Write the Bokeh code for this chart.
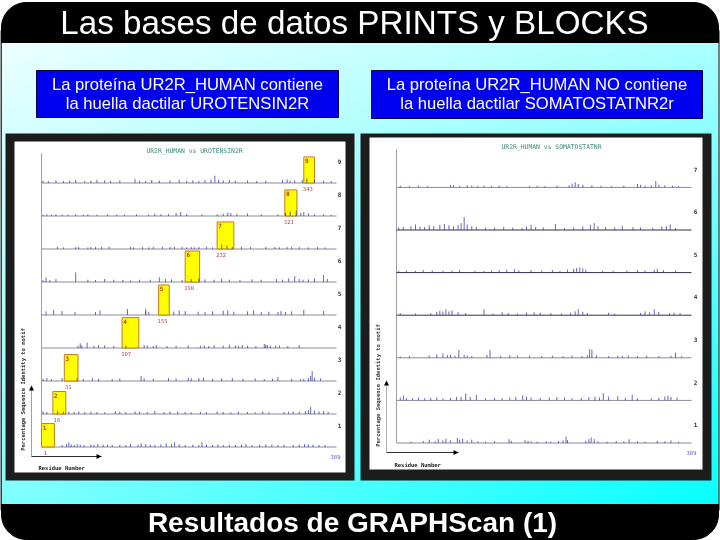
import numpy as np
from bokeh.plotting import figure
from bokeh.models import Range1d
from bokeh.core.properties import value
from bokeh.embed import file_html
from bokeh.resources import INLINE

# ---------- text ----------
slide_title = "Las bases de datos PRINTS y BLOCKS"
slide_footer = "Resultados de GRAPHScan (1)"
left_caption = ["La proteína UR2R_HUMAN contiene", "la huella dactilar UROTENSIN2R"]
right_caption = ["La proteína UR2R_HUMAN NO contiene", "la huella dactilar SOMATOSTATNR2r"]
left_chart_title = "UR2R_HUMAN vs UROTENSIN2R"
right_chart_title = "UR2R_HUMAN vs SOMATOSTATNR"
y_axis_title = "Percentage Sequence Identity to motif"
x_axis_title = "Residue Number"
seq_length = 389

# ---------- left chart: yellow motif hits ----------
motif_rows = [1, 2, 3, 4, 5, 6, 7, 8, 9]
motif_start = [1, 16, 31, 107, 155, 190, 232, 321, 346]
motif_width = [17, 17, 18, 22, 14, 19, 22, 16, 14]
motif_pct = [71, 68, 80, 92, 91, 94, 82, 79, 79]
motif_label = ["1", "16", "31", "107", "155", "190", "232", "321", "343"]

# ---------- left chart: spikes (residue, % identity) ----------
L1_res = [28, 34, 37, 40, 44, 48, 52, 57, 66, 70, 75, 82, 88, 94, 104, 112, 118, 128, 132, 138, 144, 150, 158, 165, 172, 176, 182, 190, 200, 208, 212, 218, 226, 233, 240, 248, 256, 264, 270, 278, 288, 296, 304, 312, 320, 332, 340, 347, 352, 358, 366, 374]
L1_pct = [6, 9, 14, 8, 6, 9, 7, 6, 7, 6, 9, 7, 8, 6, 7, 6, 9, 7, 11, 9, 7, 6, 8, 11, 9, 14, 8, 6, 7, 6, 14, 7, 6, 8, 6, 7, 6, 7, 9, 6, 7, 8, 7, 6, 7, 6, 7, 9, 8, 7, 6, 6]
L2_res = [3, 8, 22, 30, 37, 44, 50, 58, 66, 74, 84, 98, 104, 112, 124, 130, 140, 150, 162, 170, 180, 190, 198, 210, 218, 232, 240, 250, 260, 272, 282, 292, 300, 320, 326, 332, 340, 348, 352, 355, 360, 366, 372, 378]
L2_pct = [8, 6, 9, 7, 7, 6, 8, 6, 7, 6, 5, 9, 7, 6, 8, 7, 6, 9, 6, 8, 7, 6, 5, 7, 6, 8, 6, 5, 7, 6, 5, 8, 5, 6, 7, 8, 7, 9, 12, 21, 11, 8, 9, 7]
L3_res = [3, 8, 14, 28, 48, 56, 68, 76, 94, 104, 132, 136, 148, 168, 178, 194, 198, 208, 214, 226, 238, 252, 266, 282, 294, 305, 312, 330, 342, 346, 352, 355, 357, 360, 368]
L3_pct = [7, 9, 6, 9, 8, 6, 9, 7, 6, 8, 15, 8, 7, 9, 8, 10, 8, 9, 10, 7, 8, 9, 7, 8, 6, 7, 12, 7, 6, 7, 9, 15, 30, 10, 8]
L4_res = [49, 52, 54, 61, 70, 76, 84, 96, 112, 136, 140, 148, 152, 166, 178, 194, 210, 215, 221, 228, 240, 248, 256, 260, 265, 272, 283, 294, 296, 298, 302, 309, 314, 325, 340]
L4_pct = [7, 14, 8, 16, 7, 9, 8, 6, 7, 9, 8, 6, 9, 6, 7, 8, 7, 8, 6, 9, 7, 10, 8, 7, 9, 7, 6, 12, 10, 9, 7, 8, 7, 6, 9]
L5_res = [7, 17, 28, 45, 72, 78, 114, 138, 138, 142, 175, 182, 190, 207, 216, 226, 240, 246, 254, 272, 280, 290, 300, 312, 316, 322, 330, 346, 372]
L5_pct = [11, 16, 12, 9, 9, 14, 18, 19, 10, 9, 11, 14, 12, 10, 9, 11, 13, 14, 10, 11, 14, 9, 10, 9, 12, 9, 11, 16, 12]
L6_res = [3, 7, 12, 20, 46, 62, 72, 84, 96, 108, 118, 130, 144, 156, 164, 172, 186, 198, 208, 216, 228, 238, 248, 262, 278, 290, 310, 318, 326, 334, 340, 345, 352, 360, 372, 377]
L6_pct = [6, 14, 6, 9, 29, 7, 6, 9, 7, 6, 5, 7, 7, 14, 9, 8, 6, 9, 11, 8, 7, 10, 7, 6, 8, 7, 9, 7, 11, 18, 9, 7, 8, 11, 21, 9]
L7_res = [22, 30, 46, 50, 62, 66, 72, 80, 90, 118, 122, 134, 142, 148, 160, 170, 176, 186, 192, 198, 202, 208, 218, 226, 238, 245, 252, 264, 276, 296, 308, 314, 324, 330, 340, 352, 364, 374]
L7_pct = [6, 5, 6, 6, 5, 6, 6, 6, 7, 6, 5, 6, 5, 6, 7, 6, 6, 7, 5, 6, 5, 6, 7, 5, 14, 10, 6, 7, 6, 6, 6, 5, 6, 7, 6, 5, 6, 5]
L8_res = [3, 8, 14, 20, 28, 36, 46, 56, 62, 74, 88, 100, 110, 126, 142, 150, 158, 168, 178, 184, 192, 212, 232, 240, 246, 250, 258, 272, 290, 312, 322, 328, 336, 342, 346, 352, 360, 372, 382]
L8_pct = [4, 5, 4, 5, 4, 4, 5, 4, 5, 4, 5, 4, 4, 5, 4, 7, 5, 6, 9, 12, 6, 5, 5, 7, 10, 9, 7, 8, 5, 5, 9, 14, 16, 9, 12, 8, 5, 5, 4]
L9_res = [3, 10, 20, 30, 38, 46, 58, 66, 74, 84, 92, 104, 124, 130, 138, 146, 156, 170, 182, 192, 200, 208, 216, 224, 229, 234, 240, 248, 256, 272, 284, 296, 318, 324, 328, 334, 344, 350, 360, 372, 382]
L9_pct = [7, 6, 8, 6, 7, 9, 6, 7, 10, 8, 6, 8, 12, 7, 6, 9, 7, 8, 10, 7, 8, 6, 9, 11, 22, 10, 8, 9, 7, 8, 6, 7, 9, 11, 7, 8, 10, 14, 9, 7, 6]

# ---------- right chart: spikes (residue, % identity) ----------
R1_res = [20, 36, 44, 52, 56, 62, 66, 72, 81, 84, 88, 94, 100, 108, 118, 130, 149, 152, 170, 174, 178, 186, 198, 204, 214, 220, 224, 226, 250, 254, 257, 261, 266, 278, 290, 300, 307, 318, 328, 344, 354, 362, 372]
R1_pct = [3, 5, 8, 4, 9, 6, 10, 6, 12, 8, 10, 6, 8, 4, 3, 4, 9, 5, 7, 5, 4, 3, 4, 3, 5, 6, 15, 7, 5, 9, 13, 9, 4, 3, 5, 4, 9, 4, 3, 5, 4, 6, 3]
R2_res = [6, 10, 14, 22, 30, 38, 46, 54, 62, 72, 80, 86, 92, 98, 106, 118, 130, 140, 150, 158, 167, 172, 178, 190, 202, 212, 222, 232, 244, 254, 262, 268, 273, 280, 292, 302, 311, 318, 336, 346, 354, 358, 362, 370]
R2_pct = [7, 12, 6, 5, 7, 5, 6, 7, 5, 6, 8, 9, 16, 8, 13, 5, 6, 5, 7, 8, 12, 9, 7, 6, 7, 8, 7, 5, 6, 8, 9, 7, 17, 9, 10, 6, 13, 5, 5, 6, 9, 11, 8, 7]
R3_res = [6, 18, 44, 54, 62, 68, 72, 78, 83, 90, 94, 100, 120, 124, 138, 150, 160, 176, 192, 206, 220, 232, 245, 252, 255, 258, 264, 280, 292, 298, 306, 318, 330, 346, 362, 368, 376]
R3_pct = [3, 4, 5, 8, 10, 6, 7, 5, 18, 7, 5, 4, 7, 18, 4, 6, 5, 5, 4, 5, 4, 5, 4, 6, 20, 19, 6, 4, 5, 4, 5, 4, 5, 4, 5, 12, 4]
R4_res = [6, 26, 46, 54, 58, 62, 66, 70, 74, 82, 92, 116, 128, 140, 148, 160, 172, 182, 190, 204, 218, 230, 236, 240, 246, 252, 280, 288, 322, 328, 334, 340, 346, 360, 366, 374]
R4_pct = [5, 4, 5, 8, 10, 9, 14, 9, 11, 7, 5, 14, 4, 7, 5, 4, 6, 7, 6, 5, 4, 6, 9, 14, 8, 5, 6, 4, 5, 9, 7, 14, 8, 5, 6, 5]
R5_res = [4, 14, 26, 36, 48, 62, 74, 84, 104, 116, 126, 136, 146, 156, 162, 178, 192, 206, 216, 226, 234, 238, 242, 246, 250, 272, 286, 304, 318, 328, 340, 344, 352, 368]
R5_pct = [4, 5, 4, 6, 5, 4, 5, 6, 4, 4, 5, 6, 7, 8, 5, 6, 5, 6, 4, 7, 9, 11, 12, 10, 7, 4, 4, 5, 6, 5, 7, 9, 6, 5]
R6_res = [4, 10, 20, 26, 32, 38, 44, 50, 58, 64, 70, 76, 82, 86, 90, 94, 100, 106, 118, 130, 142, 154, 166, 172, 178, 184, 194, 210, 222, 234, 246, 256, 261, 266, 276, 288, 298, 312, 322, 338, 350, 356, 361, 368]
R6_pct = [6, 7, 9, 13, 8, 7, 11, 9, 12, 14, 11, 9, 12, 16, 30, 13, 9, 7, 5, 6, 7, 6, 5, 8, 12, 7, 6, 14, 5, 6, 8, 12, 16, 9, 7, 6, 10, 7, 6, 5, 8, 9, 13, 5]
R7_res = [6, 18, 30, 42, 72, 76, 84, 94, 100, 108, 116, 126, 136, 146, 176, 186, 196, 212, 228, 232, 236, 240, 246, 258, 270, 284, 300, 318, 322, 328, 336, 342, 346, 354, 364, 372]
R7_pct = [4, 3, 4, 3, 6, 5, 3, 5, 4, 3, 4, 3, 4, 3, 3, 4, 3, 4, 5, 9, 12, 8, 6, 5, 4, 3, 4, 8, 6, 4, 5, 15, 6, 5, 4, 3]

left_res = [L1_res, L2_res, L3_res, L4_res, L5_res, L6_res, L7_res, L8_res, L9_res]
left_pct = [L1_pct, L2_pct, L3_pct, L4_pct, L5_pct, L6_pct, L7_pct, L8_pct, L9_pct]
right_res = [R1_res, R2_res, R3_res, R4_res, R5_res, R6_res, R7_res]
right_pct = [R1_pct, R2_pct, R3_pct, R4_pct, R5_pct, R6_pct, R7_pct]

# ---------- page layout (slide pixels) ----------
W, H = 720, 540
mono = value("DejaVu Sans Mono")
sans = value("Liberation Sans")

p = figure(width=W, height=H, output_backend="svg", toolbar_location=None,
           x_range=Range1d(0, W), y_range=Range1d(H, 0), min_border=0,
           background_fill_color="white", border_fill_color="white",
           outline_line_color=None)
p.axis.visible = False
p.grid.visible = False
p.styles = {"position": "fixed", "left": "0", "top": "0"}


def add_chart_scales(name, px0, px1, row1_y, row_h):
    """Residues and rows go through Bokeh scales of their own."""
    k = (px1 - px0) / (seq_length - 1)
    p.extra_x_ranges[name] = Range1d(1 - px0 / k, 1 + (W - px0) / k)
    p.extra_y_ranges[name] = Range1d(1 + (row1_y - H) / row_h, 1 + row1_y / row_h)


add_chart_scales("L", 41, 336, 446.5, 33)
add_chart_scales("R", 396, 691, 442.5, 42.6)

# slide background gradient: red channel blended between the four corners
ny, nx = 135, 180
yy, xx = np.mgrid[0:ny, 0:nx]
fx = xx / (nx - 1)
fy = yy / (ny - 1)
red = 236 * (1 - fx) * (1 - fy) + 170 * fx * (1 - fy) + 128 * (1 - fx) * fy + 8 * fx * fy
img = np.zeros((ny, nx, 4), dtype=np.uint8)
img[..., 0] = red.astype(np.uint8)
img[..., 1] = 255
img[..., 2] = 255
img[..., 3] = 255
p.image_rgba(image=[img.view(np.uint32).reshape(ny, nx)], x=1, y=42, dw=717, dh=463)
p.line([0.5, 0.5], [30, 510], line_color="black", line_width=1.5)
p.line([718.5, 718.5], [30, 510], line_color="black", line_width=1)


def round_bar(y0, y1, top):
    r = 25
    a = np.linspace(0, np.pi / 2, 16)
    xs = [1] + list(1 + r - r * np.cos(a)) + list(718 - r + r * np.cos(a[::-1])) + [718]
    if top:
        ys = [y1] + list(y0 + r - r * np.sin(a)) + list(y0 + r - r * np.sin(a[::-1])) + [y1]
    else:
        ys = [y0] + list(y1 - r + r * np.sin(a)) + list(y1 - r + r * np.sin(a[::-1])) + [y0]
    p.patch(xs, ys, fill_color="black", line_color="black")


round_bar(2, 42, True)
round_bar(504, 539, False)

p.text([354], [22], text=[slide_title], text_color="white", text_font=sans,
       text_font_size="33.2px", text_align="center", text_baseline="middle")
p.text([352], [522], text=[slide_footer], text_color="white", text_font=sans,
       text_font_style="bold", text_font_size="28px", text_align="center",
       text_baseline="middle")

# caption boxes
for (x0, x1, y0, y1, lines) in [(36, 338, 70, 117, left_caption), (371, 702, 70, 118, right_caption)]:
    p.quad(left=x0, right=x1, bottom=y1, top=y0, fill_color="#0000f0", line_color="#000040", line_width=1)
    xc = (x0 + x1) / 2
    p.text([xc, xc], [84, 103], text=lines, text_color="white", text_font=sans,
           text_font_size="16.6px", text_align="center", text_baseline="middle")


def chart(name, fx0, fx1, fy0, fy1, ix0, ix1, iy0, iy1, title, title_xy, res_lists, label_x, label_dy, dark_rows):
    p.quad(left=fx0, right=fx1, bottom=fy1, top=fy0, fill_color="#1c1c1c", line_color=None)
    p.quad(left=ix0, right=ix1, bottom=iy1, top=iy0, fill_color="white", line_color=None)
    p.text([title_xy[0]], [title_xy[1]], text=[title], text_color="#3a8a78", text_font=mono,
           text_font_size="6.4px", text_align="center", text_baseline="middle")
    nrows = len(res_lists)
    kw = dict(x_range_name=name, y_range_name=name)
    rows = list(range(1, nrows + 1))
    p.line([1, 1], [1, nrows + 0.9], line_color="#a0a0a0", line_width=1, **kw)
    for r in rows:
        col = "#303040" if r in dark_rows else "#8a8a98"
        p.line([1, seq_length], [r, r], line_color=col, line_width=1, **kw)
    p.text([label_x] * nrows, [r + label_dy for r in rows], text=[str(r) for r in rows], text_color="#303030",
           text_font=mono, text_font_style="bold", text_font_size="6px", text_align="center",
           text_baseline="middle", y_range_name=name)
    return kw


def spikes(kw, res_lists, pct_lists):
    for i, (rs, ps) in enumerate(zip(res_lists, pct_lists)):
        row = i + 1
        p.segment(x0=rs, x1=rs, y0=[row] * len(rs), y1=[row + v / 100 for v in ps],
                  line_color="#3434a8", line_width=0.9, line_alpha=0.85, **kw)


def arrows(x_v, y_base, y_top, x_h, vcolor):
    p.line([x_v, x_v], [y_base, y_top], line_color=vcolor, line_width=1)
    p.line([x_v, x_h], [y_base, y_base], line_color="#303030", line_width=1)
    p.patch([x_v - 2.5, x_v + 2.5, x_v], [y_top + 4, y_top + 4, y_top - 1], fill_color="black", line_color=None)
    p.patch([x_h - 5, x_h - 5, x_h], [y_base - 2.5, y_base + 2.5, y_base], fill_color="black", line_color=None)


# ---- left chart
kwL = chart("L", 5, 354, 133, 480, 14, 345, 141, 472, left_chart_title, (194, 150), left_res, 339, 0.66, [])
p.quad(left=motif_start, right=[s + w for s, w in zip(motif_start, motif_width)],
       bottom=motif_rows, top=[r + v / 100 for r, v in zip(motif_rows, motif_pct)],
       fill_color="#ffff00", line_color="#c87820", line_width=1, **kwL)
spikes(kwL, left_res, left_pct)
p.text(motif_start, [r + v / 100 for r, v in zip(motif_rows, motif_pct)], text=[str(r) for r in motif_rows],
       x_offset=3, y_offset=4, text_color="#b83010", text_font=mono, text_font_style="bold",
       text_font_size="6px", text_align="center", text_baseline="middle", **kwL)
p.text(motif_start, motif_rows, text=motif_label, x_offset=4, y_offset=5, text_color="#b04848",
       text_font=mono, text_font_size="5.5px", text_align="center", text_baseline="middle", **kwL)
arrows(31, 456, 386, 101, "#a0a0a0")
p.text([22], [389], text=[y_axis_title], angle=np.pi / 2, text_color="#303030", text_font=mono,
       text_font_style="bold", text_font_size="5.5px", text_align="center", text_baseline="middle")
p.text([38], [467], text=[x_axis_title], text_color="#202020", text_font=mono, text_font_style="bold",
       text_font_size="5.5px", text_align="left", text_baseline="middle")
p.text([335], [456], text=[str(seq_length)], text_color="#5050c0", text_font=mono,
       text_font_size="5.5px", text_align="center", text_baseline="middle")

# ---- right chart
kwR = chart("R", 360, 711, 133, 480, 369, 702, 137, 469, right_chart_title, (551, 146), right_res, 695, 0.43, [4, 5, 6])
spikes(kwR, right_res, right_pct)
arrows(386, 452, 381, 458, "#b0b0b0")
p.text([377], [385], text=[y_axis_title], angle=np.pi / 2, text_color="#404040", text_font=mono,
       text_font_style="bold", text_font_size="5.5px", text_align="center", text_baseline="middle")
p.text([394], [464], text=[x_axis_title], text_color="#202020", text_font=mono, text_font_style="bold",
       text_font_size="5.5px", text_align="left", text_baseline="middle")
p.text([691], [452], text=[str(seq_length)], text_color="#5050c0", text_font=mono,
       text_font_size="5.5px", text_align="center", text_baseline="middle")

open("out.html", "w").write(file_html(p, INLINE))
